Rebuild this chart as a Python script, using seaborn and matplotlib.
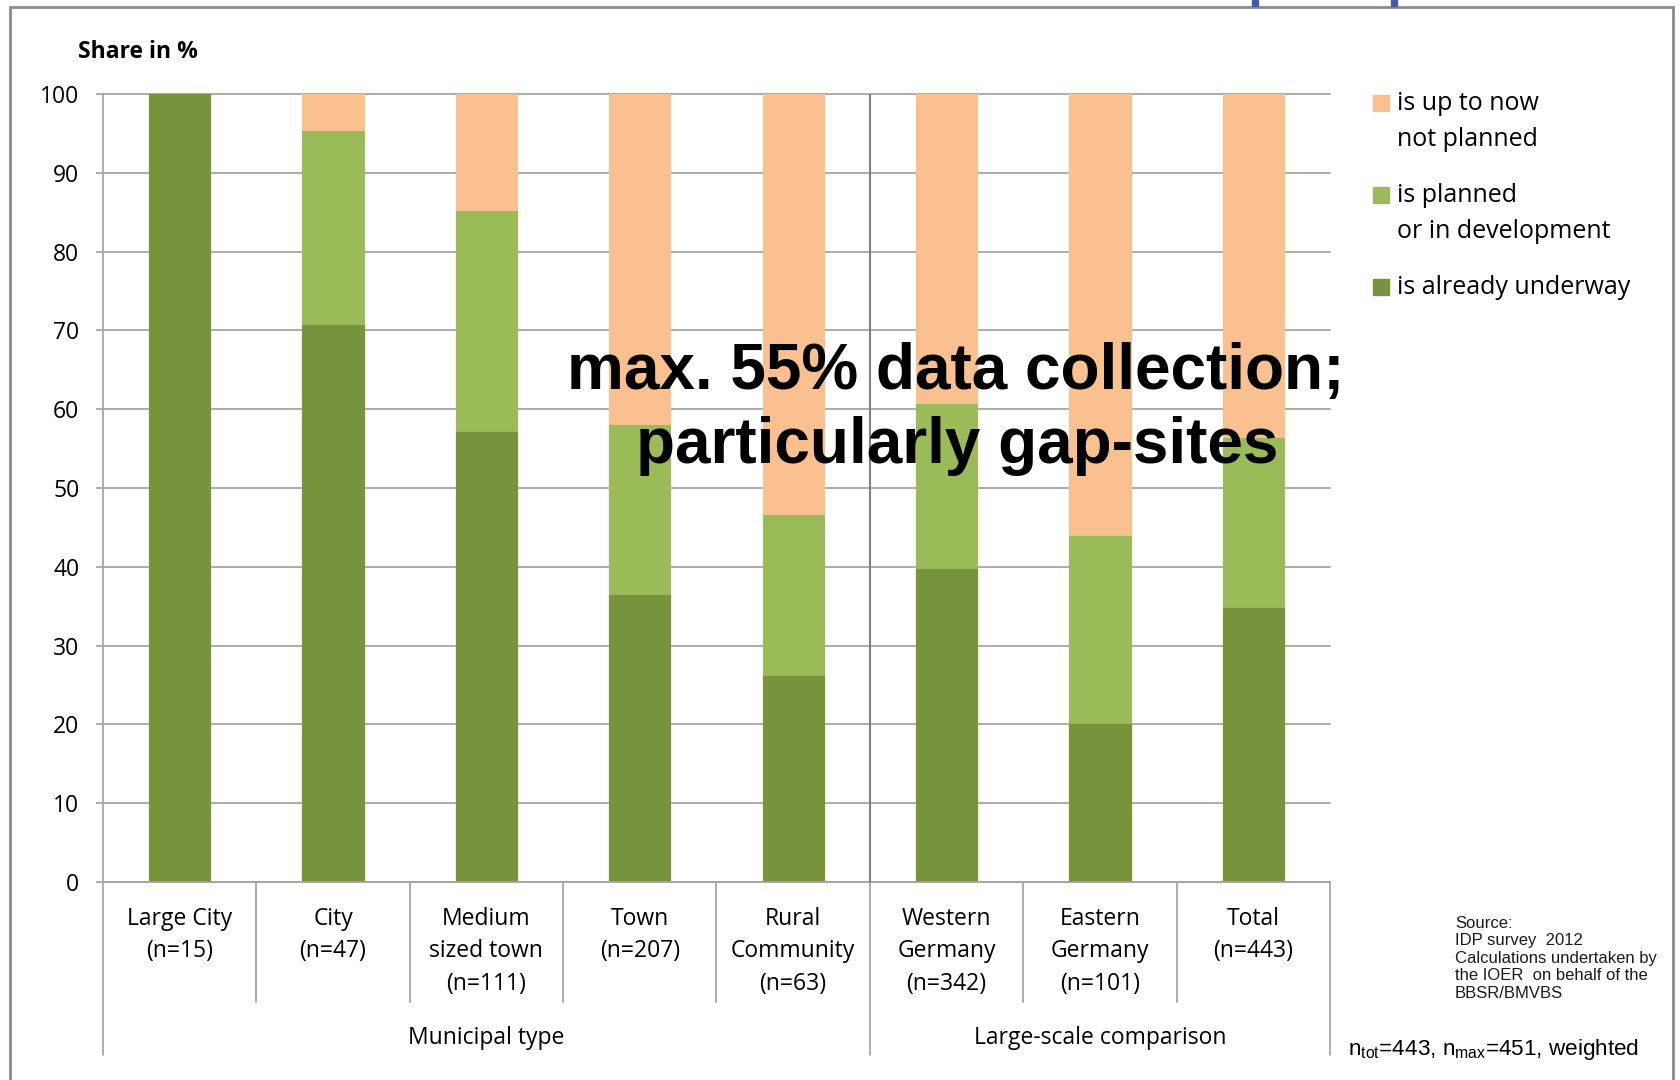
import matplotlib
matplotlib.use("Agg")
import matplotlib.pyplot as plt
import seaborn as sns
import pandas as pd
from matplotlib.patches import Rectangle
from matplotlib.lines import Line2D

# ---- data -------------------------------------------------------------
categories = [
    "Large City\n(n=15)",
    "City\n(n=47)",
    "Medium\nsized town\n(n=111)",
    "Town\n(n=207)",
    "Rural\nCommunity\n(n=63)",
    "Western\nGermany\n(n=342)",
    "Eastern\nGermany\n(n=101)",
    "Total\n(n=443)",
]
groups = ["Municipal type", "Large-scale comparison"]
group_sizes = [5, 3]

underway = [100.0, 70.7, 57.1, 36.4, 26.2, 39.7, 20.0, 34.8]
planned = [0.0, 24.6, 28.0, 21.6, 20.4, 20.9, 23.9, 21.6]
not_planned = [0.0, 4.7, 14.9, 42.0, 53.4, 39.4, 56.1, 43.6]

series_labels = [
    ["is up to now", "not planned"],
    ["is planned", "or in development"],
    ["is already underway"],
]
y_ticks = list(range(0, 101, 10))

source_lines = [
    "Source:",
    "IDP survey  2012",
    "Calculations undertaken by",
    "the IOER  on behalf of the",
    "BBSR/BMVBS",
]
note_text = r"n$_{\mathrm{tot}}$=443, n$_{\mathrm{max}}$=451, weighted"
headline = ["max. 55% data collection;", "particularly gap-sites"]

# ---- styling ----------------------------------------------------------
C_DARK = "#77933C"
C_LIGHT = "#9BBB59"
C_ORANGE = "#FAC090"
GRID = "#A6A6A6"
LABEL_FS = 16.5
LEGEND_FS = 18

sns.set_theme(style="white")
plt.rcParams["font.family"] = ["Open Sans", "DejaVu Sans"]
plt.rcParams["text.color"] = "black"
plt.rcParams["xtick.color"] = "black"
plt.rcParams["ytick.color"] = "black"
plt.rcParams["mathtext.fontset"] = "custom"
plt.rcParams["mathtext.rm"] = "Liberation Sans"

W, H = 1681, 1080
fig = plt.figure(figsize=(W / 100, H / 100), dpi=100)

def fx(px):
    return px / W

def fy(py):
    return 1 - py / H

ax = fig.add_axes([fx(103), fy(882), fx(1330) - fx(103), fy(94) - fy(882)])

df = pd.DataFrame({
    "category": categories,
    "underway": underway,
    "planned": planned,
    "not_planned": not_planned,
})
df["lvl2"] = df["underway"] + df["planned"]
df["lvl3"] = df["lvl2"] + df["not_planned"]

# stacked bars: draw cumulative totals from the back to the front
for col, colr in [("lvl3", C_ORANGE), ("lvl2", C_LIGHT), ("underway", C_DARK)]:
    sns.barplot(data=df, x="category", y=col, order=categories, color=colr,
                saturation=1, width=0.4, errorbar=None, ax=ax,
                edgecolor=colr, linewidth=0.8)

ax.set_xlim(-0.5, len(categories) - 0.5)
ax.set_ylim(0, 100)
ax.set_yticks(y_ticks)
ax.set_xlabel("")
ax.set_ylabel("")
ax.yaxis.grid(True, color=GRID, lw=1.3)
ax.xaxis.grid(False)
ax.set_axisbelow(True)
for gl in ax.get_ygridlines():
    gl.set_clip_on(False)

for s in ["top", "right"]:
    ax.spines[s].set_visible(False)
for s in ["left", "bottom"]:
    ax.spines[s].set_color(GRID)
    ax.spines[s].set_linewidth(1.3)

ax.tick_params(axis="y", length=5, width=1.3, color=GRID, pad=12,
               labelsize=LABEL_FS, labelcolor="black", left=True)
ax.tick_params(axis="x", length=0, pad=18, labelsize=LABEL_FS, labelcolor="black")
for lbl in ax.get_xticklabels():
    lbl.set_linespacing(1.47)
    lbl.set_multialignment("center")

# divider between the two comparison groups
ax.axvline(4.5, color="#808080", lw=1.5, zorder=3)

# category and group separators below the axis
xt = ax.get_xaxis_transform()
short_y = -(1002 - 882) / 788
long_y = -(1055 - 882) / 788
bounds = [-0.5]
for n in group_sizes:
    bounds.append(bounds[-1] + n)
for i in range(len(categories) + 1):
    xb = i - 0.5
    y_end = long_y if xb in bounds else short_y
    ax.add_line(Line2D([xb, xb], [0, y_end], transform=xt, color=GRID,
                       lw=1.3, clip_on=False))

start = -0.5
for name, n in zip(groups, group_sizes):
    ax.text(start + n / 2, -(1038 - 882) / 788, name, transform=xt,
            ha="center", va="center", fontsize=LABEL_FS)
    start += n

# axis title
fig.text(fx(78), fy(52), "Share in %", ha="left", va="center",
         fontsize=LABEL_FS, fontweight="bold")

# legend (colour squares with wrapped labels)
leg_colors = [C_ORANGE, C_LIGHT, C_DARK]
leg_first_y = [103, 195, 287]
line_gap = 36
for colr, lines, y0 in zip(leg_colors, series_labels, leg_first_y):
    fig.patches.append(Rectangle((fx(1373), fy(y0 + 8)), fx(16), 16 / H,
                                 transform=fig.transFigure, color=colr))
    for k, t in enumerate(lines):
        fig.text(fx(1397), fy(y0 + 1 + k * line_gap), t, ha="left",
                 va="center", fontsize=LEGEND_FS)

# headline across the plot
fig.text(fx(956), fy(389), headline[0], ha="center", va="baseline",
         fontsize=46, fontweight="bold", family="Liberation Sans", color="black")
fig.text(fx(957), fy(463), headline[1], ha="center", va="baseline",
         fontsize=46, fontweight="bold", family="Liberation Sans", color="black")

# source and sample note
for k, t in enumerate(source_lines):
    fig.text(fx(1455), fy(923 + k * 17.5), t, ha="left", va="center",
             fontsize=12, family="Liberation Sans", color="#1a1a1a")
fig.text(fx(1348), fy(1050), note_text, ha="left", va="center",
         fontsize=16.2, family="Liberation Sans")

# outer frame of the slide panel
fig.patches.append(Rectangle((fx(10), -0.05), fx(1673) - fx(10), fy(7) + 0.05,
                             transform=fig.transFigure, fill=False,
                             edgecolor="#8C8C8C", lw=2))
# cut-off heading glyph tails above the frame
for xp in (1252, 1391):
    fig.patches.append(Rectangle((fx(xp), fy(6)), fx(6), 6 / H,
                                 transform=fig.transFigure, color="#4458B0"))

fig.savefig("out.png", dpi=100, facecolor="white")
